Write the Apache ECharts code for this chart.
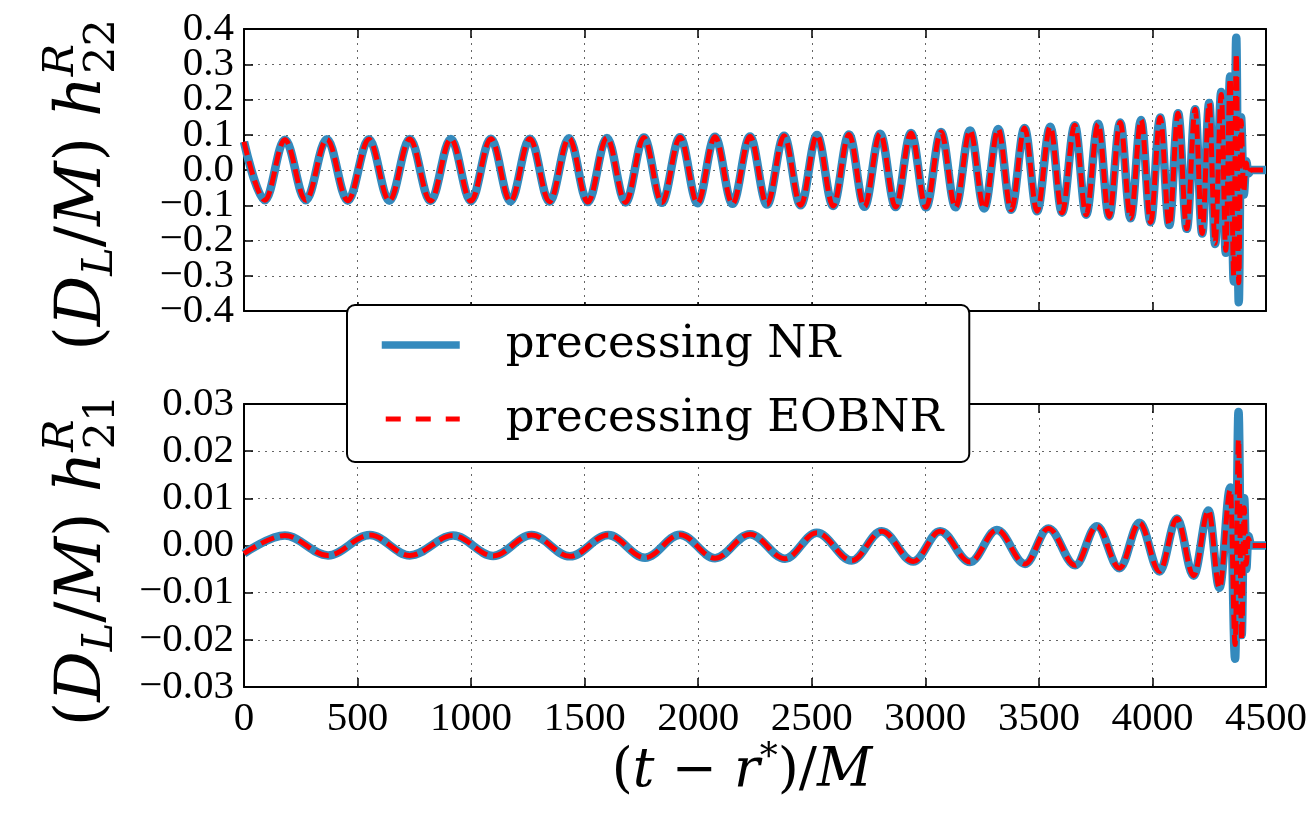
<!DOCTYPE html>
<html><head><meta charset="utf-8">
<script src="https://cdn.jsdelivr.net/npm/echarts@6/dist/echarts.min.js"></script>
<style>html,body{margin:0;padding:0;background:#fff}#c{width:1315px;height:813px}</style>
</head><body><div id="c"></div>
<script>
// ---- data (extrema of the waveforms) ----
const t22 = [0, 92, 180, 272, 365, 457, 550, 640, 730, 821, 911, 999, 1087, 1173, 1259, 1345, 1431, 1514, 1598, 1680, 1761, 1840, 1920, 1997, 2074, 2151, 2228, 2303, 2378, 2451, 2523, 2594, 2664, 2732, 2801, 2869, 2937, 3003, 3069, 3133, 3197, 3259, 3321, 3378, 3437, 3492, 3550, 3602, 3658, 3708, 3761, 3809, 3858, 3904, 3950, 3992, 4034, 4074, 4113, 4151, 4188, 4219, 4250, 4276, 4303, 4323, 4342, 4358, 4369, 4380, 4390, 4402, 4413, 4422, 4435, 4500];
const nr22 = [0.080, -0.086, 0.086, -0.086, 0.087, -0.087, 0.087, -0.087, 0.088, -0.088, 0.088, -0.088, 0.089, -0.089, 0.089, -0.090, 0.090, -0.091, 0.091, -0.092, 0.092, -0.093, 0.093, -0.094, 0.094, -0.096, 0.095, -0.098, 0.097, -0.100, 0.099, -0.102, 0.101, -0.104, 0.103, -0.105, 0.105, -0.106, 0.108, -0.106, 0.112, -0.109, 0.116, -0.113, 0.119, -0.117, 0.123, -0.121, 0.127, -0.127, 0.131, -0.132, 0.135, -0.137, 0.142, -0.148, 0.149, -0.156, 0.161, -0.167, 0.172, -0.180, 0.190, -0.210, 0.221, -0.235, 0.265, -0.316, 0.375, -0.375, 0.15, -0.07, 0.025, -0.01, 0, 0];
const eob22 = [0.080, -0.086, 0.086, -0.086, 0.087, -0.087, 0.087, -0.087, 0.088, -0.088, 0.088, -0.088, 0.089, -0.089, 0.089, -0.090, 0.090, -0.091, 0.091, -0.092, 0.092, -0.093, 0.093, -0.094, 0.094, -0.096, 0.095, -0.098, 0.097, -0.100, 0.099, -0.102, 0.101, -0.104, 0.103, -0.105, 0.105, -0.106, 0.108, -0.106, 0.112, -0.109, 0.116, -0.113, 0.119, -0.117, 0.123, -0.121, 0.127, -0.127, 0.131, -0.132, 0.135, -0.137, 0.142, -0.148, 0.149, -0.156, 0.161, -0.167, 0.172, -0.180, 0.190, -0.208, 0.214, -0.228, 0.260, -0.300, 0.330, -0.320, 0.14, -0.06, 0.02, -0.01, 0, 0];

const t21 = [0, 180, 370, 554, 730, 921, 1097, 1266, 1435, 1604, 1766, 1920, 2074, 2228, 2382, 2522, 2676, 2808, 2947, 3065, 3197, 3315, 3439, 3542, 3660, 3755, 3855, 3943, 4031, 4108, 4181, 4247, 4295, 4343, 4364, 4379, 4393, 4404, 4413, 4422, 4435, 4500];
const nr21 = [-0.0017, 0.0021, -0.0021, 0.0022, -0.0021, 0.0021, -0.0022, 0.0022, -0.0023, 0.0022, -0.0026, 0.0023, -0.0027, 0.0024, -0.0028, 0.0027, -0.0032, 0.0030, -0.0034, 0.0030, -0.0035, 0.0033, -0.0039, 0.0036, -0.0042, 0.0041, -0.0048, 0.0048, -0.0055, 0.0057, -0.0064, 0.0074, -0.0090, 0.0123, -0.0240, 0.0283, -0.0190, 0.0100, -0.0050, 0.0020, 0, 0];
const eob21 = [-0.0017, 0.0021, -0.0021, 0.0022, -0.0021, 0.0021, -0.0022, 0.0022, -0.0023, 0.0022, -0.0026, 0.0023, -0.0027, 0.0024, -0.0028, 0.0027, -0.0032, 0.0030, -0.0034, 0.0030, -0.0035, 0.0033, -0.0039, 0.0036, -0.0042, 0.0041, -0.0048, 0.0048, -0.0055, 0.0057, -0.0064, 0.0074, -0.0090, 0.0118, -0.0210, 0.0225, -0.0200, 0.0080, -0.0040, 0.0015, 0, 0];

const seriesNames = ['precessing NR', 'precessing EOBNR'];

const pairs = (t, v) => t.map((x, i) => [x, v[i]]);
const fmt = d => v => (Math.abs(v) < 1e-12 ? (0).toFixed(d) : (v < 0 ? '\u2212' : '') + Math.abs(v).toFixed(d));
// top panel labels are split over two co-located axes so none gets dropped as "overlapping"
const fmtParity = (d, odd) => v => (Math.abs(Math.round(v * 10)) % 2 === (odd ? 1 : 0) ? fmt(d)(v) : '');

const BLUE = '#348ABD', RED = '#FF0000';
const SERIF = 'Liberation Serif';
const MATH = 'DejaVu Serif';
const axisLine = { show: true, onZero: false, lineStyle: { color: '#000', width: 2 } };
const axisTick = { show: true, inside: true, length: 9, lineStyle: { color: '#000', width: 1.5 } };
const split = { show: true, lineStyle: { color: '#666', width: 1, type: [2, 5] } };
const tickFont = { fontFamily: SERIF, fontSize: 41, color: '#000', showMinLabel: true, showMaxLabel: true, hideOverlap: false };

const richY = {
  n: { fontFamily: MATH, fontSize: 63, color: '#000' },
  i: { fontFamily: MATH, fontStyle: 'italic', fontSize: 63, color: '#000' },
  s: { fontFamily: MATH, fontStyle: 'italic', fontSize: 43, color: '#000', padding: [34, 0, 0, 0] },
  p: { fontFamily: MATH, fontStyle: 'italic', fontSize: 43, color: '#000', padding: [0, -30, 44, 0] },
  q: { fontFamily: MATH, fontSize: 43, color: '#000', padding: [38, 0, 0, 0] }
};
const richX = {
  n: { fontFamily: MATH, fontSize: 54, color: '#000' },
  i: { fontFamily: MATH, fontStyle: 'italic', fontSize: 54, color: '#000' },
  a: { fontFamily: MATH, fontSize: 36, color: '#000', padding: [0, 0, 26, 0] }
};

const xA = (grid, pos, extra) => Object.assign({
  gridIndex: grid, type: 'value', min: 0, max: 4500, interval: 500, position: pos,
  axisLine, axisTick, axisLabel: { show: false }, splitLine: { show: false }
}, extra || {});
const yA = (grid, pos, min, max, itv, extra) => Object.assign({
  gridIndex: grid, type: 'value', min, max, interval: itv, position: pos,
  axisLine, axisTick, axisLabel: { show: false }, splitLine: { show: false }
}, extra || {});

const chart = echarts.init(document.getElementById('c'));
chart.setOption({
  animation: false,
  backgroundColor: '#fff',
  grid: [
    { left: 244, right: 49, top: 29, height: 282 },
    { left: 244, right: 49, top: 404, height: 283 }
  ],
  legend: {
    orient: 'vertical', left: 347, top: 305,
    padding: [14, 26, 17, 31], itemGap: 22, itemWidth: 78, itemHeight: 14,
    backgroundColor: '#fff', borderColor: '#000', borderWidth: 2, borderRadius: 8,
    selectedMode: false, z: 10,
    itemStyle: { opacity: 0 },
    formatter: n => '{a|' + n + '}',
    textStyle: { fontFamily: 'DejaVu Serif', fontSize: 45, color: '#000', lineHeight: 52,
      rich: { a: { fontFamily: 'DejaVu Serif', fontSize: 45, color: '#000', lineHeight: 52, padding: [0, 0, 0, 41] } } },
    data: [
      { name: seriesNames[0], itemStyle: { opacity: 0 }, lineStyle: { color: BLUE, width: 7.5, type: 'solid' } },
      { name: seriesNames[1], itemStyle: { opacity: 0 }, lineStyle: { color: RED, width: 5, type: [15, 15], dashOffset: 26 } }
    ]
  },
  xAxis: [
    xA(0, 'bottom', { splitLine: split }),
    xA(0, 'top'),
    xA(1, 'bottom', {
      splitLine: split,
      axisLabel: Object.assign({ show: true, margin: 12, formatter: v => String(v) }, tickFont),
      name: '{n|(}{i|t}{n| \u2212 }{i|r}{a|*}{n|)/}{i|M}',
      nameLocation: 'middle', nameGap: 38,
      nameTextStyle: { rich: richX, padding: [0, 26, 0, 0] }
    }),
    xA(1, 'top')
  ],
  yAxis: [
    yA(0, 'left', -0.4, 0.4, 0.1, {
      splitLine: split,
      axisLabel: Object.assign({ show: true, margin: 10, formatter: fmtParity(1, false) }, tickFont),
      name: '{n|(}{i|D}{s|L}{n|/}{i|M}{n|) }{i|h}{p|R}{q|22}',
      nameLocation: 'middle', nameRotate: 90, nameGap: 117,
      nameTextStyle: { rich: richY, padding: [0, 30, 0, 0] }
    }),
    yA(0, 'right', -0.4, 0.4, 0.1),
    yA(1, 'left', -0.03, 0.03, 0.01, {
      splitLine: split,
      axisLabel: Object.assign({ show: true, margin: 10, formatter: fmt(2) }, tickFont),
      name: '{n|(}{i|D}{s|L}{n|/}{i|M}{n|) }{i|h}{p|R}{q|21}',
      nameLocation: 'middle', nameRotate: 90, nameGap: 117,
      nameTextStyle: { rich: richY, padding: [0, 30, 0, 0] }
    }),
    yA(1, 'right', -0.03, 0.03, 0.01),
    yA(0, 'left', -0.4, 0.4, 0.1, {
      axisLine: { show: false }, axisTick: { show: false },
      axisLabel: Object.assign({ show: true, margin: 10, formatter: fmtParity(1, true) }, tickFont)
    })
  ],
  series: [
    { name: seriesNames[0], type: 'line', xAxisIndex: 0, yAxisIndex: 0, data: pairs(t22, nr22),
      symbol: 'none', smooth: 0.36, smoothMonotone: 'x', z: 2,
      lineStyle: { color: BLUE, width: 8.5 }, itemStyle: { color: BLUE } },
    { name: seriesNames[1], type: 'line', xAxisIndex: 0, yAxisIndex: 0, data: pairs(t22, eob22),
      symbol: 'none', smooth: 0.36, smoothMonotone: 'x', z: 3,
      lineStyle: { color: RED, width: 5, type: [14, 6] }, itemStyle: { color: RED } },
    { name: seriesNames[0], type: 'line', xAxisIndex: 2, yAxisIndex: 2, data: pairs(t21, nr21),
      symbol: 'none', smooth: 0.36, smoothMonotone: 'x', z: 2,
      lineStyle: { color: BLUE, width: 8.5 }, itemStyle: { color: BLUE } },
    { name: seriesNames[1], type: 'line', xAxisIndex: 2, yAxisIndex: 2, data: pairs(t21, eob21),
      symbol: 'none', smooth: 0.36, smoothMonotone: 'x', z: 3,
      lineStyle: { color: RED, width: 5, type: [14, 6] }, itemStyle: { color: RED } }
  ]
});
</script>
</body></html>
